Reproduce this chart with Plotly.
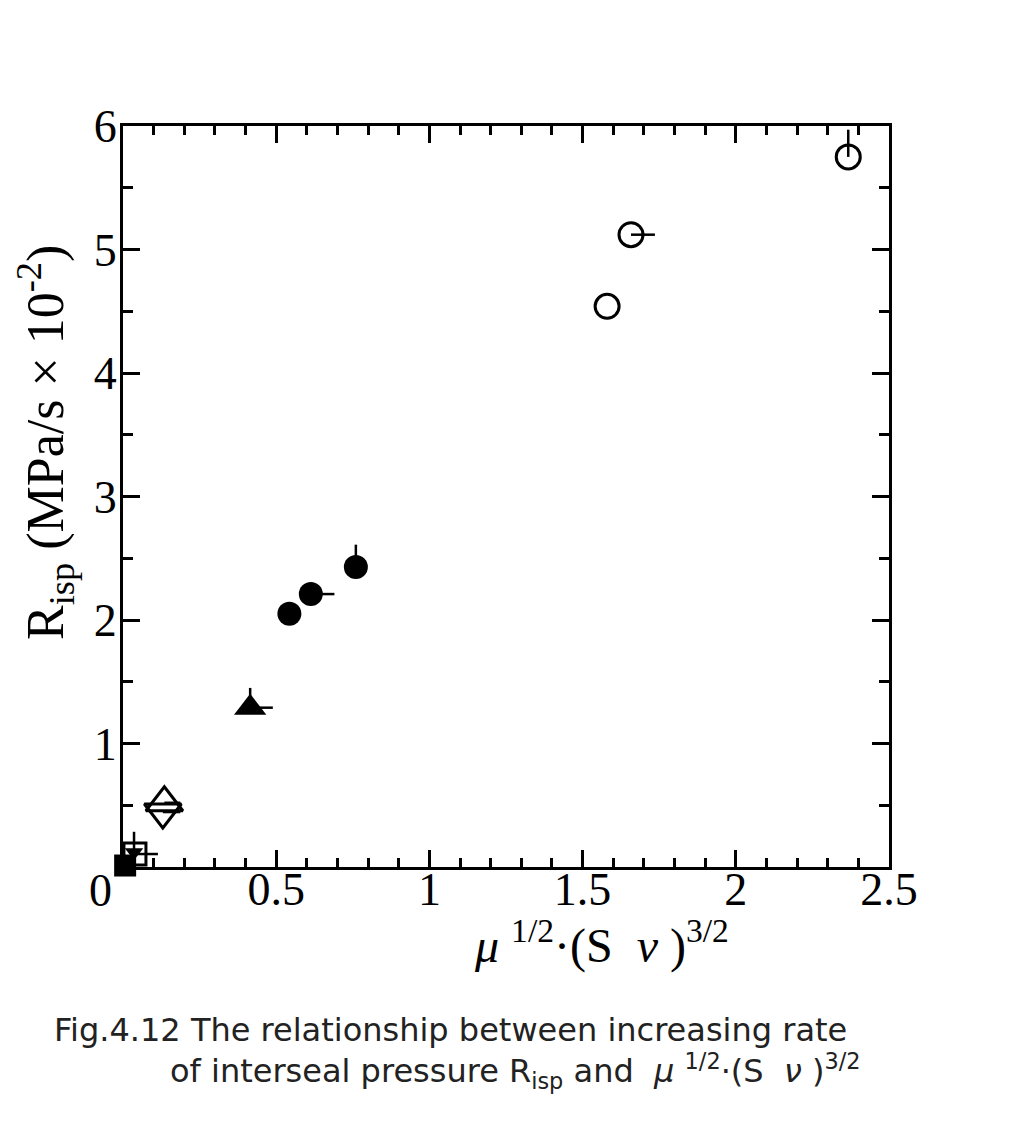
import plotly.graph_objects as go

# Seal types and measured points: x = mu^(1/2)*(S*nu)^(3/2), y = R_isp (MPa/s x 10^-2)
a1_x = [1.58, 1.658, 2.367]
a1_y = [4.54, 5.12, 5.75]
a1_ex = [0.0, 0.078, 0.0]
a1_ey = [0.0, 0.0, 0.22]

b1_x = [0.543, 0.613, 0.760]
b1_y = [2.05, 2.21, 2.43]
b1_ex = [0.0, 0.077, 0.0]
b1_ey = [0.0, 0.0, 0.18]

b2_x = [0.415]
b2_y = [1.29]
b2_ex = [0.074]
b2_ey = [0.16]

a2_x = [0.135]
a2_y = [0.52]
a2_ex = [0.052]

e_x = [0.130]
e_y = [0.445]
e_ex = [0.057]

c_x = [0.039]
c_y = [0.105]
c_ex = [0.075]

f_x = [0.036]
f_y = [0.12]
f_ey = [0.165]

d_x = [0.007]
d_y = [0.012]

x_ticks = [0, 0.5, 1, 1.5, 2, 2.5]
x_ticktext = ["", "0.5", "1", "1.5", "2", "2.5"]
y_ticks = [0, 1, 2, 3, 4, 5, 6]
y_ticktext = ["", "1", "2", "3", "4", "5", "6"]

INK = "black"
SERIF = "Liberation Serif"
SANS = "DejaVu Sans"


def err(arr):
    return dict(type="data", array=arr, arrayminus=[0] * len(arr), symmetric=False,
                color=INK, thickness=2.5, width=0, visible=True)


fig = go.Figure()

# open circles
fig.add_trace(go.Scatter(
    x=a1_x, y=a1_y, mode="markers", cliponaxis=False,
    error_x=err(a1_ex), error_y=err(a1_ey),
    marker=dict(symbol="circle-open", size=24, color=INK, line=dict(width=3, color=INK)),
))
# filled circles
fig.add_trace(go.Scatter(
    x=b1_x, y=b1_y, mode="markers", cliponaxis=False,
    error_x=err(b1_ex), error_y=err(b1_ey),
    marker=dict(symbol="circle", size=24, color=INK, line=dict(width=0)),
))
# filled triangle
fig.add_trace(go.Scatter(
    x=b2_x, y=b2_y, mode="markers", cliponaxis=False,
    error_x=err(b2_ex), error_y=err(b2_ey),
    marker=dict(symbol="triangle-up", size=28, color=INK, line=dict(width=0)),
))
# open up triangle
fig.add_trace(go.Scatter(
    x=a2_x, y=a2_y, mode="markers", cliponaxis=False,
    error_x=err(a2_ex),
    marker=dict(symbol="triangle-up-open", size=32, color=INK, line=dict(width=3, color=INK)),
))
# open down triangle
fig.add_trace(go.Scatter(
    x=e_x, y=e_y, mode="markers", cliponaxis=False,
    error_x=err(e_ex),
    marker=dict(symbol="triangle-down-open", size=32, color=INK, line=dict(width=3, color=INK)),
))
# open square
fig.add_trace(go.Scatter(
    x=c_x, y=c_y, mode="markers", cliponaxis=False,
    error_x=err(c_ex),
    marker=dict(symbol="square-open", size=22, color=INK, line=dict(width=3, color=INK)),
))
# small filled down triangle
fig.add_trace(go.Scatter(
    x=f_x, y=f_y, mode="markers", cliponaxis=False,
    error_y=err(f_ey),
    marker=dict(symbol="triangle-down", size=16, color=INK, line=dict(width=0)),
))
# filled square
fig.add_trace(go.Scatter(
    x=d_x, y=d_y, mode="markers", cliponaxis=False,
    marker=dict(symbol="square", size=22, color=INK, line=dict(width=0)),
))

axis_common = dict(
    showline=True, linecolor=INK, linewidth=3, mirror="allticks",
    ticks="inside", ticklen=17, tickwidth=3, tickcolor=INK,
    showgrid=False, zeroline=False,
    tickfont=dict(family=SERIF, size=46, color=INK),
    layer="above traces",
)

fig.update_xaxes(
    range=[0, 2.5], tickmode="array", tickvals=x_ticks, ticktext=x_ticktext,
    minor=dict(dtick=0.1, tick0=0, ticks="inside", ticklen=9, tickwidth=2.5, tickcolor=INK, showgrid=False),
    ticklabelstandoff=-20,
    **axis_common,
)
fig.update_yaxes(
    range=[0, 6], tickmode="array", tickvals=y_ticks, ticktext=y_ticktext,
    minor=dict(dtick=0.5, tick0=0, ticks="inside", ticklen=10, tickwidth=2.5, tickcolor=INK, showgrid=False),
    ticklabelstandoff=-6,
    **axis_common,
)

W, H = 1009, 1146
L, R, T, B = 123, 120, 126, 279
PW, PH = W - L - R, H - T - B


def px(xp):
    return (xp - L) / PW


def py(yp):
    return (H - B - yp) / PH


annotations = [
    # shared origin label
    dict(text="0", x=px(100), y=py(890), xref="paper", yref="paper",
         xanchor="center", yanchor="middle", showarrow=False,
         font=dict(family=SERIF, size=46, color=INK)),
    # y-axis title
    dict(text="R<sub>isp</sub>\u00a0(MPa/s\u00a0×\u00a010<sup>-2</sup>)", x=px(45), y=py(443),
         xref="paper", yref="paper", xanchor="center", yanchor="middle",
         textangle=-90, showarrow=False,
         font=dict(family=SERIF, size=52, color=INK)),
    # x-axis title
    dict(text="<i>μ</i>\u00a0<sup>1/2</sup>·(S\u00a0\u00a0<i>ν</i>\u00a0)<sup>3/2</sup>",
         x=px(601), y=py(942), xref="paper", yref="paper",
         xanchor="center", yanchor="middle", showarrow=False,
         font=dict(family=SERIF, size=48, color=INK)),
    # caption
    dict(text="Fig.4.12 The relationship between increasing rate",
         x=px(52), y=py(1030), xref="paper", yref="paper",
         xanchor="left", yanchor="middle", showarrow=False,
         font=dict(family=SANS, size=32, color="#222222")),
    dict(text="of interseal pressure R<sub>isp</sub> and \u00a0<i>μ</i>\u00a0<sup>1/2</sup>·(S\u00a0\u00a0<i>ν</i>\u00a0)<sup>3/2</sup>",
         x=px(168), y=py(1071), xref="paper", yref="paper",
         xanchor="left", yanchor="middle", showarrow=False,
         font=dict(family=SANS, size=32, color="#222222")),
]

fig.update_layout(
    width=W, height=H,
    margin=dict(l=L, r=R, t=T, b=B, pad=0),
    paper_bgcolor="white", plot_bgcolor="white",
    showlegend=False,
    annotations=annotations,
)

fig.write_html("out.html")
